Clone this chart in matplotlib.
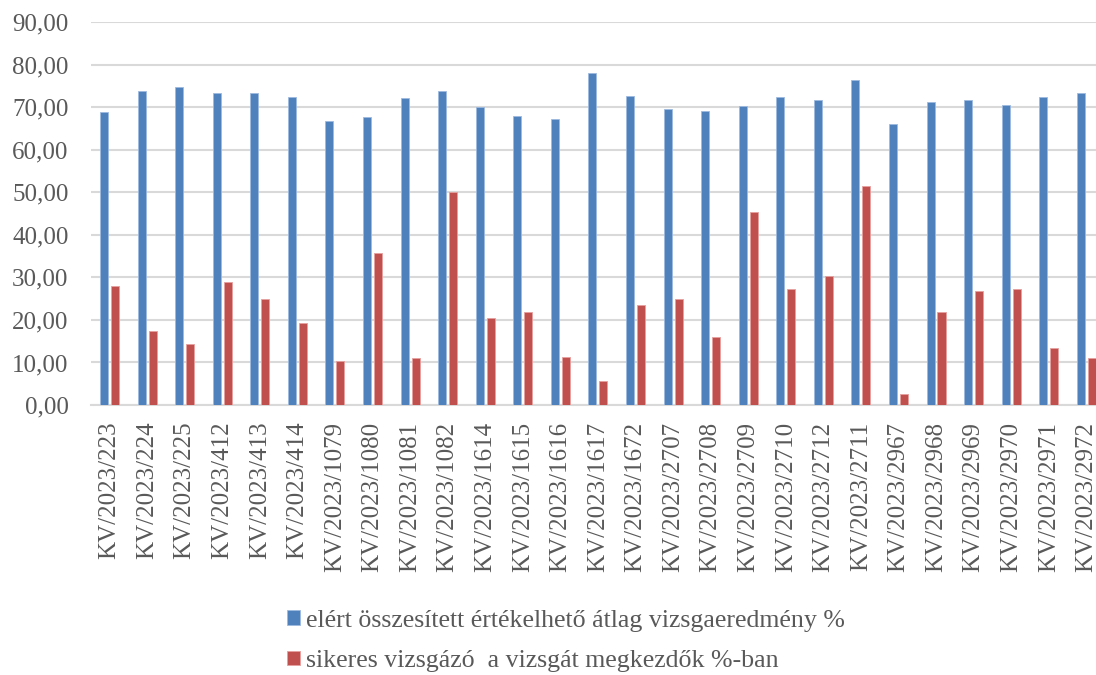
import numpy as np
import matplotlib
matplotlib.use("Agg")
from matplotlib import pyplot as plt

# kodok (kategoriak)
kodok = ["KV/2023/223", "KV/2023/224", "KV/2023/225", "KV/2023/412", "KV/2023/413",
         "KV/2023/414", "KV/2023/1079", "KV/2023/1080", "KV/2023/1081", "KV/2023/1082",
         "KV/2023/1614", "KV/2023/1615", "KV/2023/1616", "KV/2023/1617", "KV/2023/1672",
         "KV/2023/2707", "KV/2023/2708", "KV/2023/2709", "KV/2023/2710", "KV/2023/2712",
         "KV/2023/2711", "KV/2023/2967", "KV/2023/2968", "KV/2023/2969", "KV/2023/2970",
         "KV/2023/2971", "KV/2023/2972"]

# atlag vizsgaeredmeny %
atlag = [68.9, 73.8, 74.7, 73.3, 73.3, 72.4, 66.7, 67.7, 72.2, 73.8,
         70.0, 67.9, 67.2, 78.0, 72.6, 69.6, 69.1, 70.3, 72.4, 71.7,
         76.4, 66.0, 71.2, 71.7, 70.5, 72.4, 73.3]

# sikeres vizsgazok %
sikeres = [28.0, 17.3, 14.3, 29.0, 25.0, 19.3, 10.3, 35.7, 11.0, 50.0,
           20.5, 21.9, 11.3, 5.7, 23.5, 24.9, 16.1, 45.4, 27.3, 30.3,
           51.4, 2.6, 21.8, 26.7, 27.3, 13.3, 11.0]

nevek = ["elért összesített értékelhető átlag vizsgaeredmény %",
         "sikeres vizsgázó  a vizsgát megkezdők %-ban"]

plt.rcParams['font.family'] = ['Liberation Serif', 'DejaVu Serif']

fig = plt.figure(figsize=(10.96, 6.75), dpi=100)
ax = fig.add_axes([0.0828, 0.40, 0.9255, 0.567])

x = np.arange(len(kodok))
w = 0.215
ax.bar(x - 0.146, atlag, w, color="#4F81BD", edgecolor="#9DBBE0", linewidth=0.6,
       label=nevek[0], zorder=3)
ax.bar(x + 0.146, sikeres, w, color="#C0504D", edgecolor="#E5A09E", linewidth=0.6,
       label=nevek[1], zorder=3)

ax.set_xlim(-0.5, len(kodok) - 0.5)
ax.set_ylim(0, 90)
ax.set_yticks(np.arange(0, 91, 10))
ax.set_yticklabels([f"{v:.2f}".replace(".", ",") for v in np.arange(0, 91, 10)])
ax.set_xticks(x)
ax.set_xticklabels(kodok, rotation=90)
ax.tick_params(axis="both", length=0, labelsize=18, labelcolor="#595959")
ax.tick_params(axis="x", pad=12)
ax.tick_params(axis="y", pad=16)
ax.grid(axis="y", color="#D9D9D9", linewidth=1.5, zorder=0)
for s in ["top", "right", "left"]:
    ax.spines[s].set_visible(False)
ax.spines["bottom"].set_color("#D9D9D9")
ax.spines["bottom"].set_linewidth(1.5)

fig.legend(loc="center left", bbox_to_anchor=(0.262, 1 - 641 / 675), frameon=False,
           prop={"family": "Liberation Serif", "size": 18.6}, labelcolor="#595959",
           handlelength=0.48, handleheight=0.48, handletextpad=0.25,
           labelspacing=0.72, borderaxespad=0, borderpad=0)

fig.savefig("out.png", dpi=100)
